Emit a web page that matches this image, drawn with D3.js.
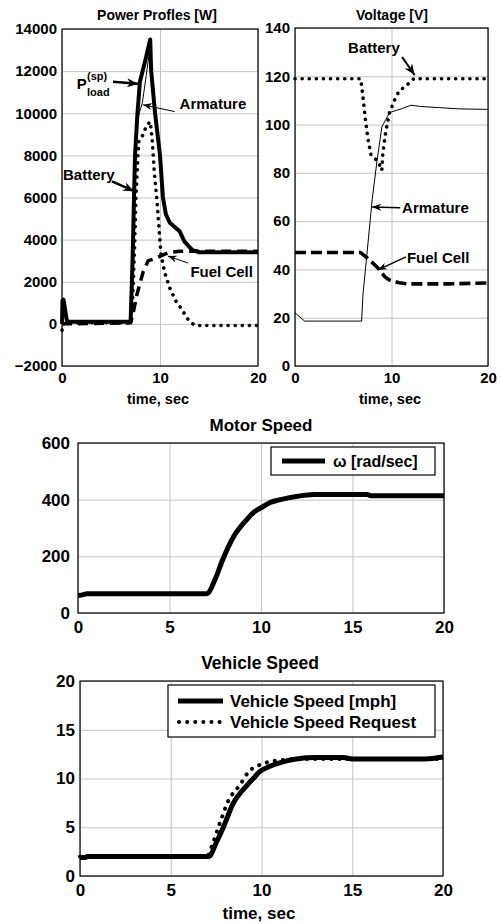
<!DOCTYPE html>
<html>
<head>
<meta charset="utf-8">
<script src="https://cdn.jsdelivr.net/npm/d3@7"></script>
<style>
  body { margin: 0; background: #fff; }
  text { font-family: "Liberation Sans", Arial, sans-serif; font-weight: bold; fill: #000; }
</style>
</head>
<body>
<script>
// ---- data: [time (s), value] ----
var pLoad = [[0,0],[0.05,1100],[0.15,1150],[0.5,150],[0.7,100],[7.0,100],[7.2,3000],[7.45,8000],[7.7,10000],[7.95,11500],[8.5,12500],[9.0,13500],[9.1,12000],[9.5,10000],[10.0,8000],[10.3,6000],[10.6,5200],[11.0,4800],[11.5,4600],[12.0,4400],[12.5,3900],[13.3,3500],[14,3400],[20,3400]];
var pArmature = [[0,0],[0.05,900],[0.15,1000],[0.5,120],[0.7,100],[7.0,100],[7.3,4000],[7.5,8000],[7.75,9800],[8.2,10500],[8.6,11800],[9.0,13200],[9.1,12000],[9.5,10000],[10.0,8000],[10.3,6000],[10.6,5200],[11.0,4800],[11.5,4600],[12.0,4400],[12.5,3900],[13.3,3500],[14,3400],[20,3400]];
var pBattery = [[0,-300],[0.1,0],[0.5,50],[7.0,50],[7.2,1000],[7.4,3500],[7.55,6000],[7.75,8000],[7.85,8700],[8.3,9000],[8.6,9400],[9.0,9600],[9.2,8800],[9.4,7300],[9.7,5800],[10.1,3300],[10.5,2400],[11.0,1700],[11.6,1100],[12.2,700],[12.8,250],[13.4,-20],[14,-80],[20,-80]];
var pFuelCell = [[0,0],[7.0,50],[7.3,600],[7.65,1400],[8.0,2000],[8.3,2500],[8.8,3000],[9.5,3100],[10.2,3250],[11.0,3400],[12,3450],[20,3450]];

var vBattery = [[0,119],[6.8,119],[7.0,113],[7.3,102],[7.6,93],[7.9,87],[8.4,85.5],[8.7,84],[9.0,81],[9.1,88],[9.4,97],[9.8,105],[10.3,110],[10.8,114],[11.5,116],[12.3,119],[20,119]];
var vArmature = [[0,22],[0.3,21],[1.0,18.6],[6.9,18.6],[7.05,30],[7.3,40],[8.0,69],[8.5,85],[9.0,99],[9.4,102],[9.8,105],[11,106.5],[12,108],[13,107.5],[15,107],[17,106.5],[20,106.3]];
var vFuelCell = [[0,47],[6.8,47],[7.5,44.7],[8.6,40.6],[9.3,37],[9.8,35.6],[10.8,34.5],[11.7,34],[16,34],[20,34.4]];

var motorSpeed = [[0,62],[0.3,65],[0.5,68],[7.0,68],[7.1,70],[7.5,120],[7.9,187],[8.5,269],[9.2,328],[9.6,355],[10.1,375],[10.5,390],[11.0,399],[12.0,412],[12.9,418],[15.8,418],[16.0,414],[20,414]];

var vehSpeed = [[0,1.9],[0.3,1.9],[0.4,2.0],[7.1,2.0],[7.5,3.4],[7.9,5.0],[8.4,7.3],[9.2,9.3],[9.6,10.1],[9.9,10.7],[10.4,11.2],[11.0,11.6],[11.9,12.0],[13,12.15],[14.5,12.15],[15,12.0],[19,12.0],[20,12.2]];
var vehRequest = [[0,2],[7.0,2],[7.25,3.0],[7.7,5.4],[8.2,7.8],[8.8,9.3],[9.3,10.7],[9.9,11.4],[10.4,11.7],[11.2,11.9],[12,12.0],[20,12.0]];

// tick labels
var xTicksTop = [0, 10, 20];
var xTicksBottom = [0, 5, 10, 15, 20];
var powerTicks = [-2000, 0, 2000, 4000, 6000, 8000, 10000, 12000, 14000];
var voltTicks = [0, 20, 40, 60, 80, 100, 120, 140];
var motorTicks = [0, 200, 400, 600];
var vehTicks = [0, 5, 10, 15, 20];

var svg = d3.select("body").append("svg")
  .attr("width", 502)
  .attr("height", 924);

var defs = svg.append("defs");
function arrowMarker(id, len, wid) {
  defs.append("marker")
    .attr("id", id)
    .attr("markerUnits", "userSpaceOnUse")
    .attr("viewBox", "0 0 " + len + " " + wid)
    .attr("refX", len).attr("refY", wid / 2)
    .attr("markerWidth", len).attr("markerHeight", wid)
    .attr("orient", "auto")
    .append("path")
    .attr("d", "M0,0 L" + len + "," + (wid / 2) + " L0," + wid + " L" + (len * 0.3) + "," + (wid / 2) + " Z")
    .attr("fill", "#000");
}
arrowMarker("arrowBig", 11, 9);
arrowMarker("arrowSmall", 9, 7);

function makePanel(box, xDomain, yDomain, xTicks, yTicks, fs, xPad, yPad) {
  var x = d3.scaleLinear().domain(xDomain).range([box.left, box.right]);
  var y = d3.scaleLinear().domain(yDomain).range([box.bottom, box.top]);
  var g = svg.append("g");

  // grid
  g.append("g")
    .attr("transform", "translate(0," + box.bottom + ")")
    .call(d3.axisBottom(x).tickValues(xTicks).tickSize(-(box.bottom - box.top)).tickFormat(""))
    .call(function (s) { s.select(".domain").remove(); })
    .selectAll("line").attr("stroke", "#c4c4c4").attr("stroke-width", 1);
  g.append("g")
    .attr("transform", "translate(" + box.left + ",0)")
    .call(d3.axisLeft(y).tickValues(yTicks).tickSize(-(box.right - box.left)).tickFormat(""))
    .call(function (s) { s.select(".domain").remove(); })
    .selectAll("line").attr("stroke", "#c4c4c4").attr("stroke-width", 1);

  // tick labels
  var xa = g.append("g")
    .attr("transform", "translate(0," + box.bottom + ")")
    .call(d3.axisBottom(x).tickValues(xTicks).tickSize(0).tickPadding(xPad).tickFormat(d3.format("d")));
  var ya = g.append("g")
    .attr("transform", "translate(" + box.left + ",0)")
    .call(d3.axisLeft(y).tickValues(yTicks).tickSize(0).tickPadding(yPad).tickFormat(d3.format("d")));
  [xa, ya].forEach(function (a) {
    a.select(".domain").remove();
    a.selectAll("text")
      .attr("font-family", null)
      .style("font-size", fs + "px")
      .style("font-weight", "bold")
      .attr("fill", "#000");
  });

  // frame
  g.append("rect")
    .attr("x", box.left).attr("y", box.top)
    .attr("width", box.right - box.left).attr("height", box.bottom - box.top)
    .attr("fill", "none").attr("stroke", "#000").attr("stroke-width", 1.2);

  return {g: g, x: x, y: y, box: box};
}

function drawLine(p, data, width, dash, cap, curve) {
  var line = d3.line()
    .curve(curve || d3.curveLinear)
    .x(function (d) { return p.x(d[0]); })
    .y(function (d) { return p.y(d[1]); });
  p.g.append("path")
    .datum(data)
    .attr("d", line)
    .attr("fill", "none")
    .attr("stroke", "#000")
    .attr("stroke-width", width)
    .attr("stroke-linejoin", "round")
    .attr("stroke-linecap", cap || "butt")
    .attr("stroke-dasharray", dash || null);
}

function label(p, str, t, v, fs, anchor) {
  return p.g.append("text")
    .attr("x", p.x(t)).attr("y", p.y(v))
    .attr("dy", "0.36em")
    .attr("text-anchor", anchor || "start")
    .style("font-size", fs + "px")
    .text(str);
}

function arrow(p, t1, v1, t2, v2, width, marker) {
  p.g.append("line")
    .attr("x1", p.x(t1)).attr("y1", p.y(v1))
    .attr("x2", p.x(t2)).attr("y2", p.y(v2))
    .attr("stroke", "#000").attr("stroke-width", width)
    .attr("marker-end", "url(#" + marker + ")");
}

var DOT = "0.1 7";

// ---- Power profiles ----
var p1 = makePanel({left: 62, right: 258, top: 29, bottom: 366}, [0, 20], [-2000, 14000], xTicksTop, powerTicks, 15, 6, 5);
drawLine(p1, pFuelCell, 3.5, "10 6");
drawLine(p1, pBattery, 3.6, DOT, "round");
drawLine(p1, pLoad, 4);
drawLine(p1, pArmature, 1);

label(p1, "P", 1.5, 11400, 15);
label(p1, "(sp)", 2.55, 11780, 11);
label(p1, "load", 2.55, 11000, 11);
arrow(p1, 5.2, 11500, 7.75, 11400, 2.5, "arrowBig");
label(p1, "Armature", 12.0, 10460, 15);
arrow(p1, 11.5, 10080, 8.25, 10400, 1, "arrowSmall");
label(p1, "Battery", 0.1, 7100, 15);
arrow(p1, 5.1, 6770, 7.35, 6300, 2.5, "arrowBig");
label(p1, "Fuel Cell", 13.1, 2500, 15);
arrow(p1, 12.85, 2890, 10.8, 3220, 1, "arrowSmall");

p1.g.append("text").attr("x", 157).attr("y", 20).attr("text-anchor", "middle").style("font-size", "14px").text("Power Profles [W]");
p1.g.append("text").attr("x", 158).attr("y", 404).attr("text-anchor", "middle").style("font-size", "14.5px").text("time, sec");

// ---- Voltage ----
var p2 = makePanel({left: 295, right: 488, top: 28, bottom: 366}, [0, 20], [0, 140], xTicksTop, voltTicks, 15, 6, 5);
drawLine(p2, vFuelCell, 3.6, "11 5");
drawLine(p2, vBattery, 3.6, DOT, "round");
drawLine(p2, vArmature, 1);

label(p2, "Battery", 5.5, 131.7, 15);
arrow(p2, 11.1, 128, 12.4, 120.5, 2, "arrowBig");
label(p2, "Armature", 11.1, 65.5, 15);
arrow(p2, 10.9, 65.5, 8.0, 65.9, 1.5, "arrowSmall");
label(p2, "Fuel Cell", 11.6, 44.7, 15);
arrow(p2, 11.5, 45.2, 8.6, 39.8, 1.5, "arrowSmall");

p2.g.append("text").attr("x", 392).attr("y", 20).attr("text-anchor", "middle").style("font-size", "14px").text("Voltage [V]");
p2.g.append("text").attr("x", 390).attr("y", 404).attr("text-anchor", "middle").style("font-size", "14.5px").text("time, sec");

// ---- Motor speed ----
var p3 = makePanel({left: 78, right: 444, top: 443, bottom: 613}, [0, 20], [0, 600], xTicksBottom, motorTicks, 17, 8, 8);
drawLine(p3, motorSpeed, 5, null, "butt", d3.curveMonotoneX);
p3.g.append("text").attr("x", 261).attr("y", 431).attr("text-anchor", "middle").style("font-size", "17px").text("Motor Speed");

var lg3 = p3.g.append("g");
lg3.append("rect").attr("x", 271).attr("y", 447).attr("width", 164).attr("height", 28)
  .attr("fill", "#fff").attr("stroke", "#000").attr("stroke-width", 1.2);
lg3.append("line").attr("x1", 282).attr("x2", 325).attr("y1", 461).attr("y2", 461)
  .attr("stroke", "#000").attr("stroke-width", 5);
lg3.append("text").attr("x", 333).attr("y", 461).attr("dy", "0.36em").style("font-size", "16px").text("ω [rad/sec]");

// ---- Vehicle speed ----
var p4 = makePanel({left: 80, right: 443, top: 681, bottom: 876}, [0, 20], [0, 20], xTicksBottom, vehTicks, 17, 8, 5);
drawLine(p4, vehRequest, 4, "0.1 8", "round", d3.curveMonotoneX);
drawLine(p4, vehSpeed, 5, null, "butt", d3.curveMonotoneX);
p4.g.append("text").attr("x", 260).attr("y", 669).attr("text-anchor", "middle").style("font-size", "17.5px").text("Vehicle Speed");
p4.g.append("text").attr("x", 259).attr("y", 919).attr("text-anchor", "middle").style("font-size", "17px").text("time, sec");

var lg4 = p4.g.append("g");
lg4.append("rect").attr("x", 168).attr("y", 685).attr("width", 267).attr("height", 52)
  .attr("fill", "#fff").attr("stroke", "#000").attr("stroke-width", 1.2);
lg4.append("line").attr("x1", 178).attr("x2", 223).attr("y1", 701).attr("y2", 701)
  .attr("stroke", "#000").attr("stroke-width", 5);
lg4.append("line").attr("x1", 179).attr("x2", 223).attr("y1", 722).attr("y2", 722)
  .attr("stroke", "#000").attr("stroke-width", 4).attr("stroke-linecap", "round").attr("stroke-dasharray", "0.1 8");
lg4.append("text").attr("x", 230).attr("y", 701).attr("dy", "0.36em").style("font-size", "17px").text("Vehicle Speed [mph]");
lg4.append("text").attr("x", 230).attr("y", 722).attr("dy", "0.36em").style("font-size", "17px").text("Vehicle Speed Request");
</script>
</body>
</html>
